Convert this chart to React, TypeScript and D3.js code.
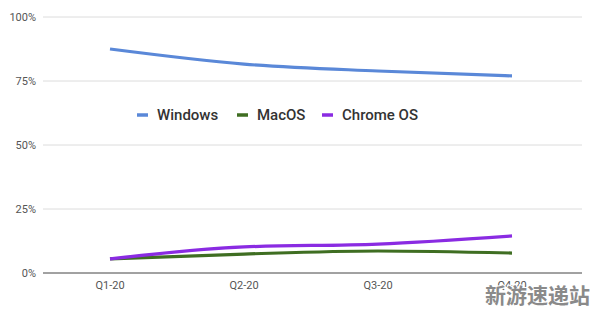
import React from "react";
import * as d3 from "d3";

const quarters = ["Q1-20", "Q2-20", "Q3-20", "Q4-20"];
const windows = [87.5, 81.6, 78.9, 77.0];
const macos = [5.5, 7.4, 8.6, 7.8];
const chromeos = [5.5, 10.2, 11.3, 14.5];
const yTicks = [0, 25, 50, 75, 100];
const seriesNames = ["Windows", "MacOS", "Chrome OS"];
const seriesColors = ["#5a88d8", "#3f6e22", "#8a2be2"];

export default function App() {
  const W = 596, H = 312;
  const left = 43, right = 579, top = 17, bottom = 273;
  const x = d3.scalePoint<string>().domain(quarters).range([left, right]).padding(0.5);
  const y = d3.scaleLinear().domain([0, 100]).range([bottom, top]);
  const line = d3
    .line<number>()
    .x((_, i) => x(quarters[i]) as number)
    .y((d) => y(d))
    .curve(d3.curveMonotoneX);
  const series = [windows, macos, chromeos];
  const legendX = [137, 237, 322];
  const font = "Roboto, Arial, sans-serif";
  return (
    <svg width={W} height={H} style={{ position: "absolute", left: 0, top: 0, background: "#fff" }}>
      <rect width={W} height={H} fill="#fff" />
      {yTicks.map((t) => (
        <g key={t}>
          <line x1={left} x2={582} y1={y(t)} y2={y(t)} stroke={t === 0 ? "#444" : "#dcdcdc"} strokeWidth={1} />
          <text x={36} y={y(t)} dy="0.35em" textAnchor="end" fontSize={11} fill="#555" fontFamily={font}>
            {t}%
          </text>
        </g>
      ))}
      {quarters.map((q) => (
        <text key={q} x={x(q) as number} y={289} textAnchor="middle" fontSize={11} fill="#555" fontFamily={font}>
          {q}
        </text>
      ))}
      {series.map((s, i) => (
        <path key={i} d={line(s) || ""} fill="none" stroke={seriesColors[i]} strokeWidth={3.2} strokeLinecap="butt" />
      ))}
      {seriesNames.map((n, i) => (
        <g key={n}>
          <line x1={legendX[i]} x2={legendX[i] + 11} y1={115} y2={115} stroke={seriesColors[i]} strokeWidth={3.5} />
          <text x={legendX[i] + 20} y={115} dy="0.35em" fontSize={15} fontWeight={500} fill="#333" fontFamily={font}>
            {n}
          </text>
        </g>
      ))}
      <text
        x={590}
        y={303}
        textAnchor="end"
        fontSize={21}
        fontWeight={700}
        fill="#8a8a8a"
        stroke="#fff"
        strokeWidth={2}
        paintOrder="stroke"
        fontFamily="'Noto Sans CJK SC', sans-serif"
      >
        新游速递站
      </text>
    </svg>
  );
}
